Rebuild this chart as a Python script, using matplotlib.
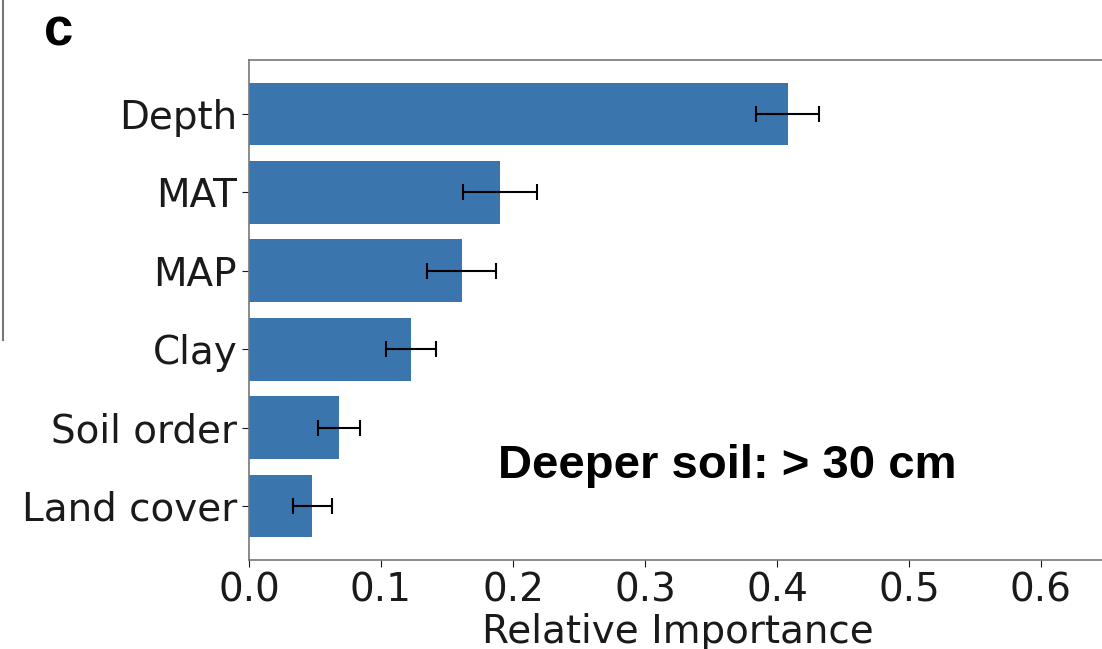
import numpy as np
import matplotlib.pyplot as plt
from matplotlib.lines import Line2D

features = ["Land cover", "Soil order", "Clay", "MAP", "MAT", "Depth"]
importance = [0.048, 0.068, 0.123, 0.161, 0.190, 0.408]
errors = [0.015, 0.016, 0.019, 0.026, 0.028, 0.024]
xticks = [0.0, 0.1, 0.2, 0.3, 0.4, 0.5, 0.6]

fig = plt.figure(figsize=(11.02, 6.49), dpi=100)
ax = fig.add_axes([249 / 1102, 89 / 649, 858 / 1102, 500 / 649])

ypos = np.arange(len(features))
ax.barh(ypos, importance, height=0.8, color="#3a75ae",
        xerr=errors, error_kw=dict(ecolor="black", elinewidth=1.5, capsize=6, capthick=1.5))
ax.set_yticks(ypos)
ax.set_yticklabels(features)
ax.set_xticks(xticks)
ax.set_xticklabels(["%.1f" % t for t in xticks])
ax.set_xlim(0, 0.65)
ax.tick_params(axis="y", labelsize=28, colors="#1a1a1a", length=5)
ax.tick_params(axis="x", labelsize=28, colors="#1a1a1a", length=5)
ax.set_xlabel("Relative Importance", fontsize=28, color="#1a1a1a", labelpad=2)

for s in ax.spines.values():
    s.set_color("#777777")
    s.set_linewidth(1.2)

ax.text(0.362, 0.505, "Deeper soil: > 30 cm", fontsize=34, fontweight="bold",
        ha="center", va="center",
        family=["Liberation Sans Narrow", "Liberation Sans", "DejaVu Sans"])

fig.text(44 / 1102, 1 - 32 / 649, "c", fontsize=38, fontweight="bold",
         va="center", family=["Liberation Sans", "DejaVu Sans"])
fig.add_artist(Line2D([3 / 1102, 3 / 1102], [1, 1 - 340 / 649], color="#777777", lw=1.5))

fig.savefig("out.png", dpi=100)
